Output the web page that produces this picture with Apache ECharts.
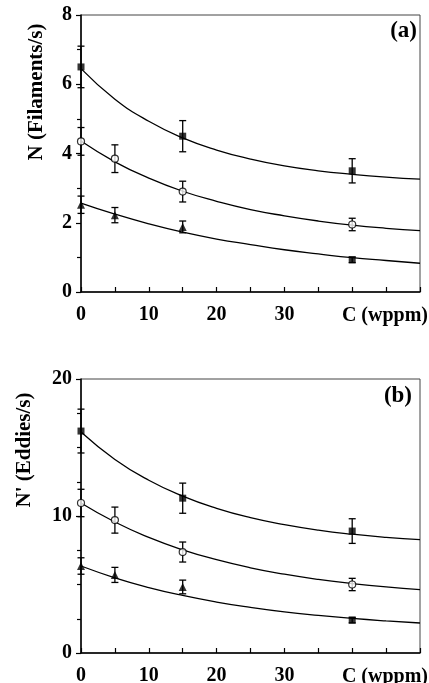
<!DOCTYPE html>
<html>
<head>
<meta charset="utf-8">
<script src="https://cdn.jsdelivr.net/npm/echarts@6/dist/echarts.min.js"></script>
<style>
html,body{margin:0;padding:0;background:#fff;}
#chart{width:429px;height:683px;}
</style>
</head>
<body>
<div id="chart"></div>
<script>
// concentration points (wppm)
var xSq = [0, 15, 40];
var xPts = [0, 5, 15, 40];
var fitX = [0, 5, 10, 15, 20, 25, 30, 35, 40, 45, 50];

// panel (a) N (Filaments/s)
var sqA = [6.5, 4.5, 3.5];
var sqErrA = [0.6, 0.45, 0.35];
var ciA = [4.35, 3.85, 2.9, 1.95];
var ciErrA = [0.4, 0.4, 0.3, 0.18];
var trA = [2.52, 2.22, 1.88, 0.93];
var trErrA = [0.25, 0.22, 0.17, 0.08];
var fitTopA = [6.45, 5.57, 4.93, 4.45, 4.10, 3.84, 3.64, 3.50, 3.40, 3.32, 3.26];
var fitMidA = [4.36, 3.76, 3.29, 2.91, 2.62, 2.38, 2.20, 2.05, 1.93, 1.84, 1.77];
var fitBotA = [2.57, 2.25, 1.97, 1.73, 1.53, 1.37, 1.22, 1.10, 0.99, 0.91, 0.83];

// panel (b) N' (Eddies/s)
var sqB = [16.2, 11.3, 8.9];
var sqErrB = [1.6, 1.1, 0.9];
var ciB = [10.95, 9.7, 7.37, 5.0];
var ciErrB = [1.0, 0.95, 0.73, 0.45];
var trB = [6.35, 5.7, 4.82, 2.4];
var trErrB = [0.6, 0.55, 0.5, 0.2];
var fitTopB = [16.13, 14.13, 12.61, 11.45, 10.56, 9.88, 9.37, 8.97, 8.67, 8.44, 8.27];
var fitMidB = [10.95, 9.56, 8.44, 7.53, 6.81, 6.22, 5.75, 5.37, 5.07, 4.82, 4.62];
var fitBotB = [6.35, 5.49, 4.78, 4.20, 3.72, 3.33, 3.00, 2.74, 2.52, 2.34, 2.19];

var FONT = '"Liberation Serif", "DejaVu Serif", serif';

function pairs(xs, ys){
	var out = [];
	for (var i = 0; i < xs.length; i++){
		out.push([xs[i], ys[i]]);
	}
	return out;
}
function errs(xs, ys, es){
	var out = [];
	for (var i = 0; i < xs.length; i++){
		out.push([xs[i], ys[i] - es[i], ys[i] + es[i]]);
	}
	return out;
}

function errorSeries(gi, data){
	return {
		type: 'custom',
		xAxisIndex: gi, yAxisIndex: gi,
		z: 2,
		silent: true,
		encode: {x: 0, y: [1, 2]},
		data: data,
		renderItem: function(params, api){
			var lo = api.coord([api.value(0), api.value(1)]);
			var hi = api.coord([api.value(0), api.value(2)]);
			var hw = 3.5;
			var st = {stroke: '#000', lineWidth: 1.3};
			return {
				type: 'group',
				children: [
					{type: 'line', shape: {x1: lo[0], y1: lo[1], x2: hi[0], y2: hi[1]}, style: st},
					{type: 'line', shape: {x1: lo[0] - hw, y1: lo[1], x2: lo[0] + hw, y2: lo[1]}, style: st},
					{type: 'line', shape: {x1: hi[0] - hw, y1: hi[1], x2: hi[0] + hw, y2: hi[1]}, style: st}
				]
			};
		}
	};
}

function fitSeries(gi, ys){
	return {
		type: 'line',
		xAxisIndex: gi, yAxisIndex: gi,
		data: pairs(fitX, ys),
		smooth: true,
		showSymbol: false,
		silent: true,
		z: 1,
		lineStyle: {color: '#000', width: 1.3}
	};
}

function markSeries(gi, xs, ys, symbol, open, lastRect){
	var data = pairs(xs, ys);
	if (lastRect){
		data[data.length - 1] = {value: data[data.length - 1], symbol: 'rect', symbolSize: 7};
	}
	return {
		type: 'scatter',
		xAxisIndex: gi, yAxisIndex: gi,
		z: 3,
		symbol: symbol,
		symbolSize: symbol === 'triangle' ? 8 : 7,
		data: data,
		itemStyle: open ? {color: '#fff', borderColor: '#000', borderWidth: 1.2} : {color: '#000'}
	};
}

function xAxisOf(gi){
	return {
		type: 'value', gridIndex: gi,
		min: 0, max: 50, interval: 10,
		axisLine: {lineStyle: {color: '#000', width: 1.5}},
		axisTick: {inside: true, length: 5, lineStyle: {color: '#000', width: 1.2}},
		minorTick: {show: true, splitNumber: 2, length: 5, lineStyle: {color: '#000', width: 1.2}},
		splitLine: {show: false},
		axisLabel: {
			margin: 13, color: '#000', fontFamily: FONT, fontWeight: 'bold', fontSize: 20,
			formatter: function(v){ return v <= 30 ? String(v) : ''; }
		},
		name: 'C (wppm)',
		nameLocation: 'end',
		nameGap: 8,
		nameTextStyle: {
			color: '#000', fontFamily: FONT, fontWeight: 'bold', fontSize: 20,
			align: 'right', verticalAlign: 'top', padding: [14, 0, 0, 0]
		}
	};
}

function yAxisOf(gi, max, interval, minorSplit){
	return {
		type: 'value', gridIndex: gi,
		min: 0, max: max, interval: interval,
		axisLine: {show: true, lineStyle: {color: '#000', width: 1.5}},
		axisTick: {show: true, length: 5, lineStyle: {color: '#000', width: 1.2}},
		minorTick: {show: true, splitNumber: minorSplit, length: 4, lineStyle: {color: '#000', width: 1.2}},
		splitLine: {show: false},
		axisLabel: {margin: 9, color: '#000', fontFamily: FONT, fontWeight: 'bold', fontSize: 20}
	};
}

var option = {
	backgroundColor: '#fff',
	animation: false,
	grid: [
		{left: 81, top: 15, right: 9, height: 277, show: true, borderColor: '#444', borderWidth: 1, outerBoundsMode: 'none'},
		{left: 81, top: 379, right: 9, height: 274, show: true, borderColor: '#444', borderWidth: 1, outerBoundsMode: 'none'}
	],
	xAxis: [xAxisOf(0), xAxisOf(1)],
	yAxis: [yAxisOf(0, 8, 2, 2), yAxisOf(1, 20, 10, 4)],
	graphic: [
		{type: 'text', x: 37, y: 92, rotation: Math.PI / 2,
			style: {text: 'N (Filaments/s)', font: 'bold 21px ' + FONT, fill: '#000', align: 'center', verticalAlign: 'middle'}},
		{type: 'text', x: 25, y: 450, rotation: Math.PI / 2,
			style: {text: "N' (Eddies/s)", font: 'bold 21px ' + FONT, fill: '#000', align: 'center', verticalAlign: 'middle'}},
		{type: 'text', right: 12, top: 20,
			style: {text: '(a)', font: 'bold 23px ' + FONT, fill: '#000'}},
		{type: 'text', right: 17, top: 385,
			style: {text: '(b)', font: 'bold 23px ' + FONT, fill: '#000'}}
	],
	series: [
		fitSeries(0, fitTopA), fitSeries(0, fitMidA), fitSeries(0, fitBotA),
		errorSeries(0, errs(xSq, sqA, sqErrA)),
		errorSeries(0, errs(xPts, ciA, ciErrA)),
		errorSeries(0, errs(xPts, trA, trErrA)),
		markSeries(0, xSq, sqA, 'rect', false, false),
		markSeries(0, xPts, ciA, 'circle', true, false),
		markSeries(0, xPts, trA, 'triangle', false, true),

		fitSeries(1, fitTopB), fitSeries(1, fitMidB), fitSeries(1, fitBotB),
		errorSeries(1, errs(xSq, sqB, sqErrB)),
		errorSeries(1, errs(xPts, ciB, ciErrB)),
		errorSeries(1, errs(xPts, trB, trErrB)),
		markSeries(1, xSq, sqB, 'rect', false, false),
		markSeries(1, xPts, ciB, 'circle', true, false),
		markSeries(1, xPts, trB, 'triangle', false, true)
	]
};

var chart = echarts.init(document.getElementById('chart'));
chart.setOption(option);
</script>
</body>
</html>
